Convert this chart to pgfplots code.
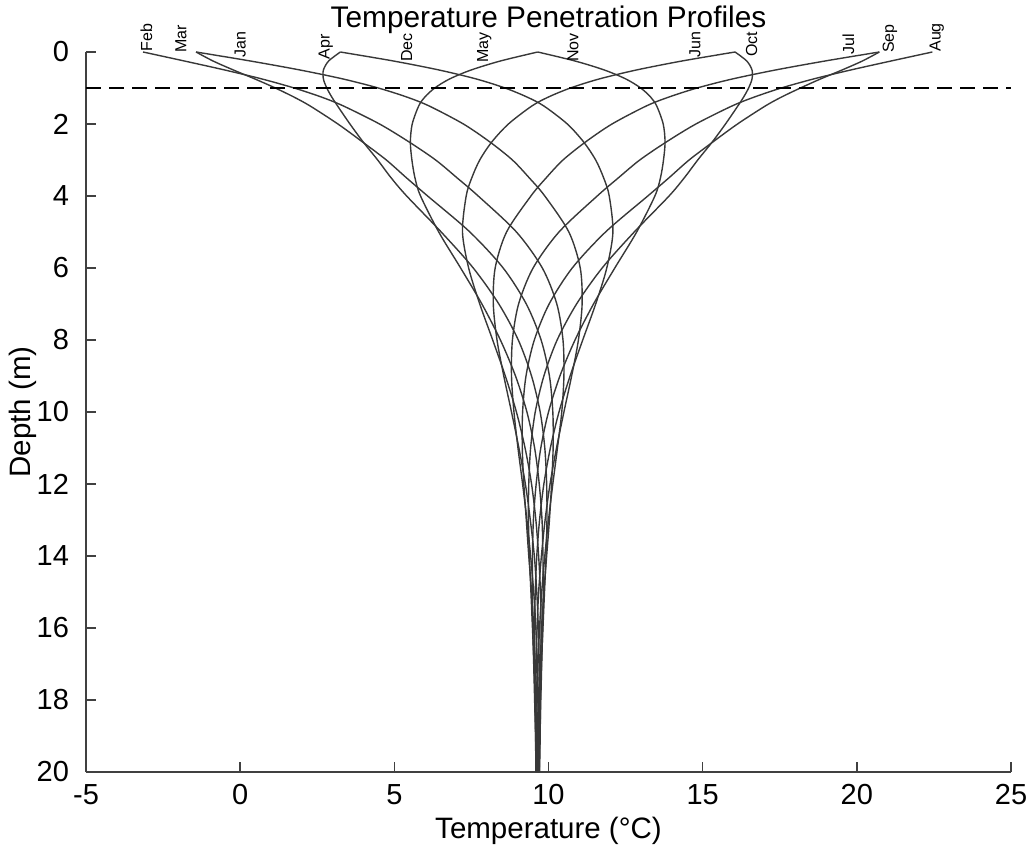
\documentclass[border=0pt]{standalone}
\usepackage{fontspec}
\setmainfont{Liberation Sans}
\usepackage{pgfplots}
\pgfplotsset{compat=1.18}
\usepackage{pgfplotstable}

\pgfplotstableread{
z    Jan    Feb    Mar    Apr    May    Jun    Jul    Aug    Sep    Oct    Nov    Dec
0    -1.43  -3.15  -1.43  3.25   9.65   16.05  20.73  22.45  20.73  16.05  9.65   3.25
0.25 0.33   -1.81  -0.88  2.87   8.44   14.33  18.97  21.11  20.18  16.43  10.86  4.97
0.5  1.94   -0.50  -0.22  2.70   7.49   12.85  17.36  19.80  19.52  16.60  11.81  6.45
0.75 3.34   0.71   0.48   2.70   6.79   11.64  15.96  18.59  18.82  16.60  12.51  7.66
1    4.48   1.75   1.14   2.81   6.31   10.71  14.82  17.55  18.17  16.49  12.99  8.59
1.25 5.40   2.63   1.74   2.97   5.99   10.00  13.91  16.68  17.56  16.33  13.31  9.30
1.5  6.13   3.35   2.27   3.16   5.79   9.46   13.17  15.95  17.03  16.14  13.51  9.85
2    7.24   4.52   3.17   3.56   5.58   8.70   12.06  14.78  16.13  15.74  13.72  10.61
2.5  8.10   5.48   3.97   3.99   5.52   8.16   11.20  13.82  15.33  15.31  13.78  11.14
3    8.83   6.34   4.74   4.46   5.57   7.77   10.47  12.96  14.56  14.84  13.73  11.53
3.5  9.38   7.04   5.40   4.90   5.67   7.51   9.92   12.26  13.90  14.40  13.63  11.79
4    9.88   7.72   6.08   5.40   5.85   7.33   9.43   11.58  13.22  13.91  13.45  11.97
5    10.66  8.96   7.45   6.52   6.44   7.21   8.64   10.34  11.85  12.78  12.86  12.09
6    11.03  9.80   8.53   7.56   7.15   7.41   8.27   9.50   10.77  11.74  12.15  11.89
7    11.09  10.27  9.28   8.39   7.84   7.77   8.21   9.03   10.02  10.91  11.46  11.53
8    10.97  10.47  9.76   9.02   8.44   8.19   8.33   8.83   9.54   10.28  10.86  11.11
9    10.75  10.50  10.03  9.45   8.93   8.60   8.55   8.80   9.27   9.85   10.37  10.70
10   10.50  10.43  10.14  9.73   9.30   8.96   8.80   8.88   9.16   9.57   10.00  10.34
11   10.26  10.29  10.15  9.88   9.55   9.24   9.04   9.01   9.15   9.42   9.75   10.06
12   10.05  10.14  10.10  9.94   9.70   9.45   9.25   9.16   9.20   9.36   9.60   9.85
13   9.89   10.00  10.03  9.95   9.79   9.59   9.41   9.30   9.28   9.35   9.51   9.71
14   9.77   9.88   9.94   9.92   9.82   9.68   9.54   9.42   9.36   9.38   9.48   9.62
15   9.68   9.78   9.85   9.87   9.83   9.74   9.62   9.52   9.45   9.43   9.48   9.57
16   9.63   9.71   9.78   9.82   9.81   9.76   9.67   9.59   9.52   9.48   9.49   9.55
17   9.60   9.66   9.73   9.77   9.78   9.75   9.70   9.64   9.57   9.53   9.52   9.55
18   9.59   9.63   9.69   9.73   9.75   9.74   9.71   9.67   9.62   9.57   9.55   9.56
19   9.59   9.62   9.66   9.69   9.72   9.73   9.71   9.68   9.64   9.61   9.58   9.58
20   9.60   9.61   9.64   9.67   9.69   9.71   9.70   9.69   9.66   9.63   9.61   9.59
}\profiles

\begin{document}
\begin{tikzpicture}
\begin{axis}[
  scale only axis, width=462.5pt, height=360pt,
  xmin=-5, xmax=25, ymin=0, ymax=20, y dir=reverse,
  axis lines*=left,
  xtick={-5,0,5,10,15,20,25}, ytick={0,2,4,6,8,10,12,14,16,18,20},
  tick align=inside, major tick length=5pt,
  tick style={black!75, line width=0.8pt},
  axis line style={black!75, line width=0.8pt},
  tick label style={font=\fontsize{14.5}{17}\selectfont},
  xticklabel style={yshift=-2.6pt},
  yticklabel style={xshift=-5pt},
  /pgf/number format/assume math mode=true,
  clip=false,
]
\foreach \m in {Jan,Feb,Mar,Apr,May,Jun,Jul,Aug,Sep,Oct,Nov,Dec}{
  \addplot[smooth, line width=0.7pt, black!78] table[x=\m, y=z] {\profiles};
}
\addplot[black, line width=1.3pt, dash pattern=on 7.5pt off 4pt] coordinates {(-5,1) (25,1)};

\coordinate (BL) at (axis cs:-5,20);
\coordinate (TR) at (axis cs:25,0);

\begin{scope}[every node/.style={rotate=90, anchor=west, inner sep=0pt, font=\fontsize{8}{9}\selectfont}]
\node at (axis cs:-3.04,0.00) {Feb};
\node at (axis cs:-1.92,0.03) {Mar};
\node at (axis cs:0.00,0.17) {Jan};
\node at (axis cs:2.78,0.22) {Apr};
\node at (axis cs:5.40,0.28) {Dec};
\node at (axis cs:7.92,0.31) {May};
\node at (axis cs:10.79,0.28) {Nov};
\node at (axis cs:14.75,0.17) {Jun};
\node at (axis cs:16.59,0.14) {Oct};
\node at (axis cs:19.73,0.08) {Jul};
\node at (axis cs:21.07,0.03) {Sep};
\node at (axis cs:22.59,0.00) {Aug};
\end{scope}

\node[anchor=base, font=\fontsize{14.9}{17}\selectfont] at ([yshift=12pt]axis cs:10,0) {Temperature Penetration Profiles};
\node[anchor=base, font=\fontsize{14.75}{17}\selectfont] at ([yshift=-33pt]axis cs:10,20) {Temperature (°C)};
\node[rotate=90, anchor=center, font=\fontsize{14.75}{17}\selectfont] at ([xshift=-31.5pt]axis cs:-5,10) {Depth (m)};
\end{axis}
\pgfresetboundingbox
\path[use as bounding box] ([xshift=-43pt,yshift=-38.5pt]BL) rectangle ([xshift=10.5pt,yshift=26pt]TR);
\end{tikzpicture}
\end{document}
